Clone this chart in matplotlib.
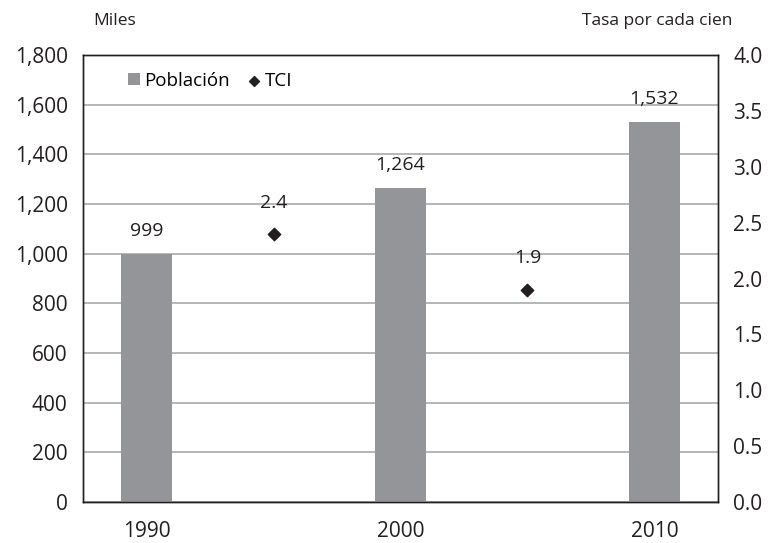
import matplotlib.pyplot as plt

years = ["1990", "2000", "2010"]
poblacion = [999, 1264, 1532]
tci_labels = ["1990-2000", "2000-2010"]
tci = [2.4, 1.9]

plt.rcParams['font.family'] = ['Open Sans', 'DejaVu Sans']

fig = plt.figure(figsize=(7.73, 5.43), dpi=100)
ax = fig.add_axes([0.1074, 0.0755, 0.8214, 0.8232])
ax2 = ax.twinx()

xb = list(range(len(years)))
xt = [i + 0.5 for i in range(len(tci))]

ax.bar(xb, poblacion, width=0.2, color='#939598', zorder=3, label='Población')
for x, v in zip(xb, poblacion):
    ax.annotate(f"{v:,}", (x, v), xytext=(0, 10), textcoords='offset points',
                ha='center', va='bottom', fontsize=14, color='#231f20')

ax2.scatter(xt, tci, marker='D', s=40, color='#231f20', zorder=4, label='TCI')
for x, v in zip(xt, tci):
    ax2.annotate(f"{v}", (x, v), xytext=(0, 16), textcoords='offset points',
                 ha='center', va='bottom', fontsize=14, color='#231f20')

ax.set_xlim(-0.25, 2.25)
ax.set_ylim(0, 1800)
ax.set_yticks(range(0, 1801, 200))
ax.set_yticklabels([f"{v:,}" for v in range(0, 1801, 200)])
ax2.set_ylim(0, 4)
ax2.set_yticks([i * 0.5 for i in range(9)])
ax2.set_yticklabels([f"{i * 0.5:.1f}" for i in range(9)])
ax.set_xticks(xb)
ax.set_xticklabels(years)

ax.yaxis.grid(True, color='#a7a9ac', linewidth=1.2, zorder=0)
ax.tick_params(axis='both', length=0, labelsize=15, colors='#231f20')
ax.tick_params(axis='y', pad=11)
ax.tick_params(axis='x', pad=14)
ax2.tick_params(axis='y', length=0, labelsize=15, colors='#231f20', pad=11)
for a in (ax, ax2):
    for s in a.spines.values():
        s.set_color('#231f20')
        s.set_linewidth(1.0)

fig.text(0.121, 0.962, "Miles", fontsize=12.5, color='#231f20', va='center')
fig.text(0.948, 0.962, "Tasa por cada cien", fontsize=12.5, color='#231f20',
         va='center', ha='right')

h1, l1 = ax.get_legend_handles_labels()
h2, l2 = ax2.get_legend_handles_labels()
ax2.legend(h1 + h2, l1 + l2, loc='upper left', bbox_to_anchor=(0.045, 1.0),
           ncol=2, frameon=False, fontsize=13.5, handlelength=0.6, handleheight=0.6,
           handletextpad=0.25, columnspacing=1.0, markerscale=0.8)

fig.savefig("out.png", dpi=100)
